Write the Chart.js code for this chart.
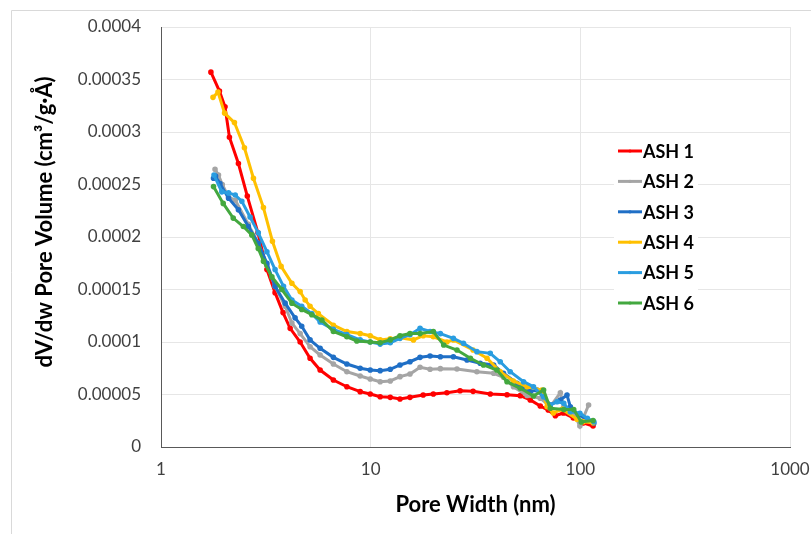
<!DOCTYPE html>
<html>
<head>
<meta charset="utf-8">
<script src="https://cdn.jsdelivr.net/npm/chart.js@4.4.1/dist/chart.umd.min.js"></script>
<style>
  html, body { margin: 0; padding: 0; background: #fff; }
  #wrap { position: relative; width: 811px; height: 534px; }
</style>
</head>
<body>
<div id="wrap"><canvas id="poreChart"></canvas></div>
<script>
// pore width (nm) and dV/dw pore volume
const ash1Width = [1.73, 1.90, 2.02, 2.12, 2.34, 2.58, 2.90, 3.20, 3.50, 3.82, 4.13, 4.61, 5.14, 5.74, 6.64, 7.70, 8.91, 9.95, 11.1, 12.4, 13.8, 15.4, 17.8, 19.9, 23.1, 26.7, 30.8, 37.2, 44.7, 51.7, 57.7, 64.4, 70.3, 76.0, 83.0, 92.6, 103, 115];
const ash1Volume = [0.000357, 0.000339, 0.000324, 0.000295, 0.000270, 0.000239, 0.000204, 0.000169, 0.000147, 0.000128, 0.000113, 0.0001, 0.0000845, 0.0000733, 0.0000638, 0.0000574, 0.0000527, 0.0000505, 0.0000479, 0.0000473, 0.0000457, 0.0000473, 0.0000495, 0.0000505, 0.0000517, 0.0000536, 0.000053, 0.0000505, 0.0000498, 0.0000489, 0.0000448, 0.000039, 0.0000352, 0.0000298, 0.0000324, 0.0000276, 0.0000229, 0.00002];

const ash2Width = [1.81, 1.88, 1.96, 2.10, 2.26, 2.61, 2.91, 3.20, 3.50, 3.91, 4.21, 4.61, 5.14, 5.74, 6.64, 7.70, 8.91, 9.95, 11.1, 12.4, 13.8, 15.4, 17.2, 19.2, 21.5, 25.8, 32.1, 38.6, 43.0, 48.0, 55.7, 64.4, 71.9, 80.3, 83.4, 93.0, 99.5, 109.5];
const ash2Volume = [0.0002645, 0.000259, 0.00025, 0.000238, 0.000235, 0.000212, 0.000194, 0.000173, 0.000153, 0.000134, 0.000118, 0.000108, 0.0000955, 0.0000876, 0.000079, 0.0000717, 0.0000676, 0.0000648, 0.0000622, 0.0000629, 0.000067, 0.0000695, 0.0000759, 0.000074, 0.0000746, 0.0000743, 0.0000717, 0.0000702, 0.0000664, 0.0000574, 0.000049, 0.0000465, 0.0000384, 0.0000517, 0.0000384, 0.0000321, 0.00002, 0.00004];

const ash3Width = [1.78, 1.82, 1.91, 2.10, 2.34, 2.61, 2.91, 3.20, 3.50, 3.91, 4.36, 4.69, 5.14, 5.74, 6.64, 7.70, 8.91, 9.95, 11.1, 12.4, 13.8, 15.4, 17.2, 19.2, 21.5, 24.8, 28.8, 33.3, 38.6, 43.0, 49.9, 57.7, 62.1, 71.9, 80.3, 86.4, 89.6, 98.2, 108, 116];
const ash3Volume = [0.000256, 0.000258, 0.000251, 0.000237, 0.000226, 0.00021, 0.000194, 0.000175, 0.000153, 0.000137, 0.000123, 0.000115, 0.000102, 0.000094, 0.0000854, 0.000079, 0.000075, 0.0000733, 0.0000727, 0.000074, 0.0000781, 0.0000812, 0.0000854, 0.0000867, 0.000086, 0.000086, 0.0000829, 0.0000797, 0.0000781, 0.0000702, 0.0000607, 0.0000527, 0.0000543, 0.00004, 0.0000448, 0.0000495, 0.0000384, 0.0000305, 0.0000264, 0.0000226];

const ash4Width = [1.77, 1.87, 2.01, 2.24, 2.50, 2.76, 3.08, 3.40, 3.74, 4.21, 4.61, 4.87, 5.14, 5.63, 6.64, 7.70, 8.91, 9.95, 11.1, 12.4, 13.8, 16.0, 17.8, 19.9, 23.1, 24.8, 30.8, 35.9, 41.5, 47.9, 55.7, 65.6, 69.4, 74.3, 81.8, 96.4, 103, 115];
const ash4Volume = [0.000333, 0.000338, 0.000318, 0.000309, 0.000285, 0.000256, 0.000228, 0.000196, 0.000172, 0.000156, 0.000148, 0.00014, 0.000134, 0.000127, 0.000116, 0.00011, 0.000108, 0.000106, 0.000102, 0.000103, 0.000104, 0.000102, 0.000106, 0.000105, 0.0001, 0.000102, 0.0000924, 0.0000845, 0.0000717, 0.0000629, 0.0000574, 0.0000543, 0.0000384, 0.0000324, 0.0000359, 0.0000264, 0.0000241, 0.0000231];

const ash5Width = [1.79, 1.95, 2.10, 2.26, 2.43, 2.66, 2.91, 3.20, 3.50, 3.84, 4.21, 4.69, 5.24, 5.74, 6.64, 7.70, 8.91, 9.95, 11.1, 12.4, 13.8, 15.4, 17.2, 19.2, 21.5, 24.8, 27.7, 32.1, 37.2, 41.5, 46.3, 53.6, 59.8, 66.8, 71.9, 77.4, 83.4, 89.6, 99.5, 108, 116];
const ash5Volume = [0.000259, 0.000243, 0.000242, 0.00024, 0.000234, 0.000219, 0.000204, 0.000186, 0.000169, 0.000153, 0.00014, 0.000134, 0.000127, 0.000119, 0.000112, 0.000107, 0.000102, 0.0001, 0.000098, 0.0000993, 0.0001035, 0.000107, 0.000113, 0.00011, 0.000108, 0.0001035, 0.0000988, 0.0000908, 0.0000892, 0.0000812, 0.0000717, 0.0000622, 0.0000574, 0.0000479, 0.00004, 0.0000431, 0.0000416, 0.0000336, 0.0000321, 0.0000273, 0.0000241];

const ash6Width = [1.78, 1.98, 2.21, 2.47, 2.71, 2.91, 3.08, 3.38, 3.77, 4.21, 4.69, 5.24, 5.85, 6.64, 7.70, 8.59, 9.95, 11.1, 12.4, 13.8, 15.4, 17.2, 19.9, 22.3, 25.8, 29.9, 34.5, 40.0, 44.7, 51.7, 59.8, 66.8, 71.9, 83.4, 93.0, 101, 115];
const ash6Volume = [0.000248, 0.000232, 0.000218, 0.00021, 0.000202, 0.000189, 0.000177, 0.000162, 0.00015, 0.000137, 0.000131, 0.000126, 0.000121, 0.00011, 0.000105, 0.000101, 0.0001, 0.0000993, 0.000102, 0.000106, 0.000108, 0.000108, 0.00011, 0.0000971, 0.0000924, 0.0000845, 0.0000781, 0.0000733, 0.0000622, 0.0000559, 0.0000486, 0.0000543, 0.0000369, 0.0000357, 0.0000357, 0.0000238, 0.0000252];

const seriesNames = ["ASH 1", "ASH 2", "ASH 3", "ASH 4", "ASH 5", "ASH 6"];
const xTicks = [1, 10, 100, 1000];
const yTicks = [0, 0.00005, 0.0001, 0.00015, 0.0002, 0.00025, 0.0003, 0.00035, 0.0004];

const widths = [ash1Width, ash2Width, ash3Width, ash4Width, ash5Width, ash6Width];
const volumes = [ash1Volume, ash2Volume, ash3Volume, ash4Volume, ash5Volume, ash6Volume];
const colors = ["#ff0000", "#a5a5a5", "#1f6fc6", "#ffc000", "#2a9de0", "#43a83f"];

const FONT = "Lato, 'Open Sans', sans-serif";

const datasets = seriesNames.map((name, i) => ({
  label: name,
  data: widths[i].map((w, j) => ({ x: w, y: volumes[i][j] })),
  borderColor: colors[i],
  backgroundColor: colors[i],
  borderWidth: 3,
  pointRadius: 1.3,
  pointHoverRadius: 1.3,
  showLine: true,
  tension: 0,
  order: seriesNames.length - i,
}));

// frame, y title and the legend box sitting inside the plot
const extras = {
  id: "extras",
  beforeDraw(chart) {
    const ctx = chart.ctx;
    ctx.save();
    ctx.strokeStyle = "#d9d9d9";
    ctx.lineWidth = 1;
    ctx.beginPath();
    ctx.moveTo(11.5, 534);
    ctx.lineTo(11.5, 10.5);
    ctx.lineTo(811, 10.5);
    ctx.stroke();

    ctx.translate(45, 222);
    ctx.rotate(-Math.PI / 2);
    ctx.fillStyle = "#000";
    ctx.font = "bold 22px " + FONT;
    ctx.textAlign = "center";
    ctx.textBaseline = "middle";
    ctx.fillText("dV/dw Pore Volume (cm³/g·Å)", 0, 0);
    ctx.restore();
  },
  afterDatasetsDraw(chart) {
    const ctx = chart.ctx;
    ctx.save();
    ctx.fillStyle = "#fff";
    ctx.fillRect(614, 137, 84, 180);
    ctx.font = "bold 18px " + FONT;
    ctx.textBaseline = "middle";
    chart.data.datasets.forEach((ds, i) => {
      const y = 151 + i * 30.4;
      ctx.strokeStyle = ds.borderColor;
      ctx.lineWidth = 3;
      ctx.beginPath();
      ctx.moveTo(618, y);
      ctx.lineTo(642, y);
      ctx.stroke();
      ctx.fillStyle = ds.borderColor;
      ctx.beginPath();
      ctx.arc(630, y, 1.6, 0, Math.PI * 2);
      ctx.fill();
      ctx.fillStyle = "#000";
      ctx.fillText(ds.label, 643, y + 1);
    });
    ctx.restore();
  },
};

new Chart(document.getElementById("poreChart"), {
  type: "scatter",
  data: { datasets },
  plugins: [extras],
  options: {
    responsive: true,
    maintainAspectRatio: false,
    animation: false,
    layout: { padding: { left: 12, top: 27, right: 21, bottom: 0 } },
    plugins: {
      legend: { display: false },
      tooltip: { enabled: false },
    },
    scales: {
      x: {
        type: "logarithmic",
        min: 1,
        max: 1000,
        afterBuildTicks: (axis) => {
          axis.ticks = xTicks.map((v) => ({ value: v }));
        },
        afterFit: (scale) => {
          scale.height = 87;
          scale.paddingLeft = 0;
          scale.paddingRight = 0;
        },
        ticks: {
          callback: (v) => String(v),
          color: "#404040",
          font: { family: FONT, size: 17 },
          padding: 12,
          maxRotation: 0,
        },
        grid: { color: "#e6e6e6", drawTicks: false },
        border: { color: "#595959", width: 1 },
        title: {
          display: true,
          text: "Pore Width (nm)",
          color: "#000",
          font: { family: FONT, size: 22, weight: "bold" },
          padding: { top: 0, bottom: 16 },
        },
      },
      y: {
        min: 0,
        max: 0.0004,
        afterBuildTicks: (axis) => {
          axis.ticks = yTicks.map((v) => ({ value: v }));
        },
        afterFit: (scale) => {
          scale.width = 149;
          scale.paddingTop = 0;
          scale.paddingBottom = 0;
        },
        ticks: {
          callback: (v) => String(v),
          color: "#404040",
          font: { family: FONT, size: 17 },
          padding: 20,
        },
        grid: { color: "#e6e6e6", drawTicks: false },
        border: { color: "#595959", width: 1 },
      },
    },
  },
});
</script>
</body>
</html>
